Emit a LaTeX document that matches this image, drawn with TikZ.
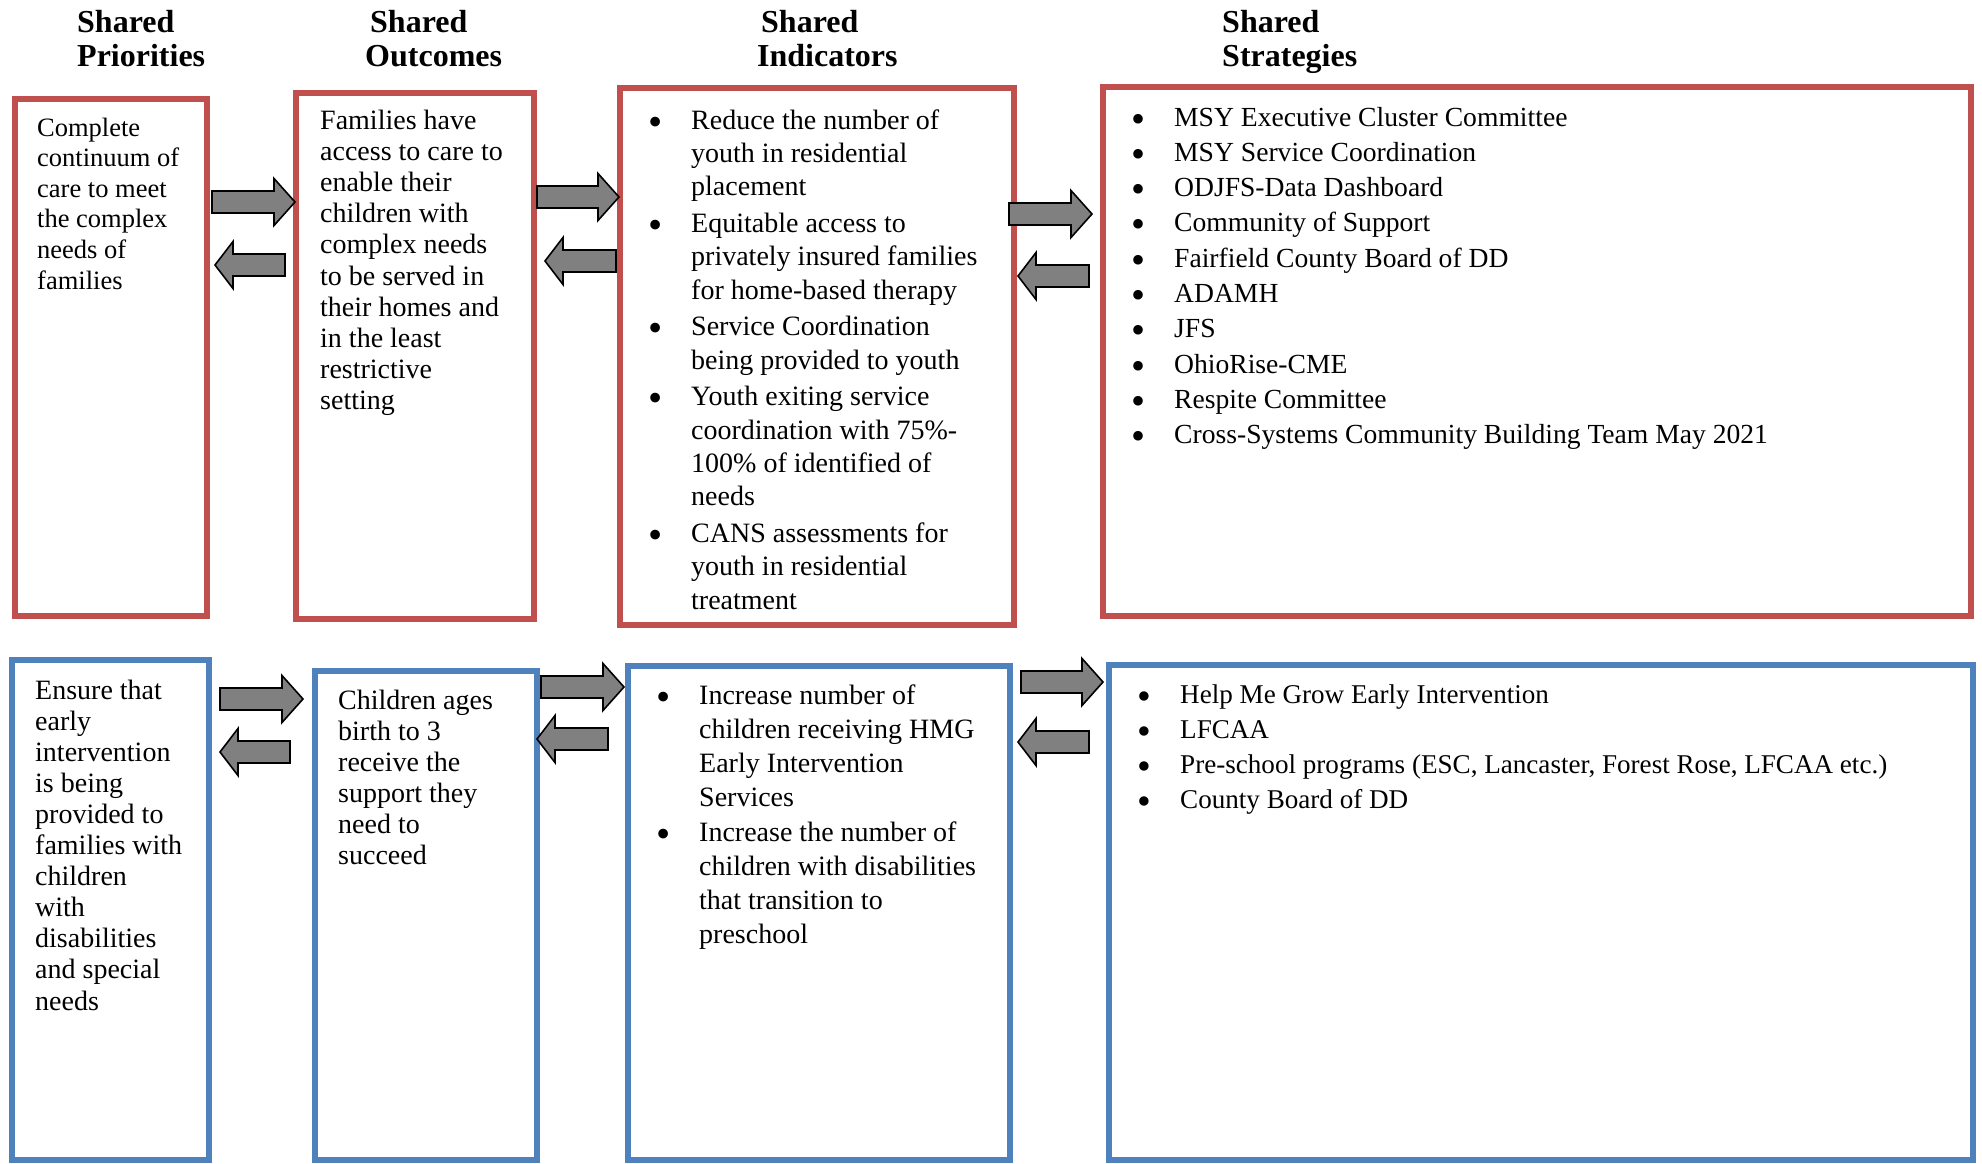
\documentclass[tikz,border=0pt]{standalone}
\usepackage{fontspec}
\setmainfont{Liberation Serif}
\usetikzlibrary{positioning}

\definecolor{boxred}{HTML}{C0504D}
\definecolor{boxblue}{HTML}{4F81BD}
\definecolor{arrowgray}{HTML}{808080}

\tikzstyle{redbox}=[draw=boxred, line width=6pt, rectangle, anchor=north west, inner sep=0pt, outer sep=0pt]
\tikzstyle{bluebox}=[draw=boxblue, line width=5.5pt, rectangle, anchor=north west, inner sep=0pt, outer sep=0pt]
\tikzstyle{head}=[anchor=base west, inner sep=0pt, font=\fontsize{32}{34}\selectfont\bfseries]
\tikzstyle{txt}=[anchor=base west, inner sep=0pt]
\tikzstyle{blk}=[draw=black, fill=arrowgray, line width=1.6pt, line join=miter]

\newcommand{\lines}[1]{\begin{tabular}[t]{@{}l@{}}#1\end{tabular}}
\newcommand{\items}[1]{\begin{tabular}[t]{@{}l@{}l@{}}#1\end{tabular}}
\newcommand{\bl}{\makebox[43pt][l]{\raisebox{-6pt}[0pt][0pt]{\scalebox{1.45}{\textbullet}}}}
% block arrows: tail x, tip x, y
\newcommand{\rblock}[3]{\draw[blk] (#1,#3-11) -- (#2-21,#3-11) -- (#2-21,#3-23.5) -- (#2,#3) -- (#2-21,#3+23.5) -- (#2-21,#3+11) -- (#1,#3+11) -- cycle;}
\newcommand{\lblock}[3]{\draw[blk] (#2,#3-11) -- (#1+18,#3-11) -- (#1+18,#3-23.5) -- (#1,#3) -- (#1+18,#3+23.5) -- (#1+18,#3+11) -- (#2,#3+11) -- cycle;}

\begin{document}
\begin{tikzpicture}[x=1pt,y=-1pt]
    \useasboundingbox (0,0) rectangle (1982,1163);

    % column heads
    \node[head] (hpri) at (77,32) {\lines{Shared\\Priorities}};
    \node[head] (hout) at (365,32) {\lines{\hspace*{5pt}Shared\\Outcomes}};
    \node[head] (hind) at (757,32) {\lines{\hspace*{4pt}Shared\\Indicators}};
    \node[head] (hstr) at (1222,32) {\lines{Shared\\Strategies}};

    % first row
    \node[redbox, minimum width=192pt, minimum height=517pt] (pri1) at (15,99) {};
    \node[redbox, minimum width=238pt, minimum height=526pt] (out1) at (296,93) {};
    \node[redbox, minimum width=394pt, minimum height=537pt] (ind1) at (620,88) {};
    \node[redbox, minimum width=868pt, minimum height=529pt] (str1) at (1103,87) {};

    \node[txt, font=\fontsize{26.5}{30.6}\selectfont] (tpri1) at (37,136)
        {\lines{Complete\\continuum of\\care to meet\\the complex\\needs of\\families}};
    \node[txt, font=\fontsize{28}{31.2}\selectfont] (tout1) at (320,129)
        {\lines{Families have\\access to care to\\enable their\\children with\\complex needs\\to be served in\\their homes and\\in the least\\restrictive\\setting}};
    \node[txt, font=\fontsize{28}{33.3}\selectfont] (tind1) at (648,129)
        {\items{\bl & Reduce the number of\\
                    & youth in residential\\
                    & placement\\[3.5pt]
                \bl & Equitable access to\\
                    & privately insured families\\
                    & for home-based therapy\\[3.5pt]
                \bl & Service Coordination\\
                    & being provided to youth\\[3.5pt]
                \bl & Youth exiting service\\
                    & coordination with 75\%-\\
                    & 100\% of identified of\\
                    & needs\\[3.5pt]
                \bl & CANS assessments for\\
                    & youth in residential\\
                    & treatment}};
    \node[txt, font=\fontsize{27.6}{35.3}\selectfont] (tstr1) at (1131,126)
        {\items{\bl & MSY Executive Cluster Committee\\
                \bl & MSY Service Coordination\\
                \bl & ODJFS-Data Dashboard\\
                \bl & Community of Support\\
                \bl & Fairfield County Board of DD\\
                \bl & ADAMH\\
                \bl & JFS\\
                \bl & OhioRise-CME\\
                \bl & Respite Committee\\
                \bl & Cross-Systems Community Building Team May 2021}};

    % second row
    \node[bluebox, minimum width=197pt, minimum height=500pt] (pri2) at (12,660) {};
    \node[bluebox, minimum width=222pt, minimum height=489pt] (out2) at (315,671) {};
    \node[bluebox, minimum width=382pt, minimum height=494pt] (ind2) at (628,666) {};
    \node[bluebox, minimum width=864pt, minimum height=495pt] (str2) at (1109,665) {};

    \node[txt, font=\fontsize{28}{31.1}\selectfont] (tpri2) at (35,699)
        {\lines{Ensure that\\early\\intervention\\is being\\provided to\\families with\\children\\with\\disabilities\\and special\\needs}};
    \node[txt, font=\fontsize{28}{31}\selectfont] (tout2) at (338,709)
        {\lines{Children ages\\birth to 3\\receive the\\support they\\need to\\succeed}};
    \node[txt, font=\fontsize{28}{34}\selectfont] (tind2) at (656,704)
        {\items{\bl & Increase number of\\
                    & children receiving HMG\\
                    & Early Intervention\\
                    & Services\\[1pt]
                \bl & Increase the number of\\
                    & children with disabilities\\
                    & that transition to\\
                    & preschool}};
    \node[txt, font=\fontsize{27.1}{35.3}\selectfont] (tstr2) at (1137,703)
        {\items{\bl & Help Me Grow Early Intervention\\
                \bl & LFCAA\\
                \bl & Pre-school programs (ESC, Lancaster, Forest Rose, LFCAA etc.)\\
                \bl & County Board of DD}};

    % arrows between the columns
    \rblock{212}{295}{202}  \lblock{215}{285}{265}
    \rblock{537}{619}{197}  \lblock{545}{616}{261}
    \rblock{1009}{1092}{214} \lblock{1018}{1089}{276}
    \rblock{220}{303}{699}  \lblock{220}{290}{752}
    \rblock{541}{624}{687}  \lblock{537}{608}{739}
    \rblock{1021}{1103}{682} \lblock{1018}{1089}{742}
\end{tikzpicture}
\end{document}
